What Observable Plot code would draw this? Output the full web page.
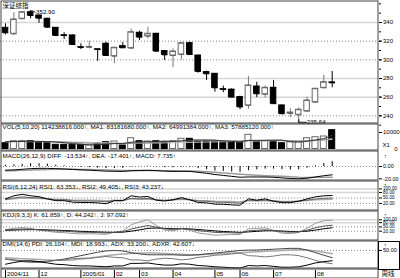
<!DOCTYPE html>
<html><head><meta charset="utf-8">
<script src="https://cdn.jsdelivr.net/npm/d3@7"></script>
<script src="https://cdn.jsdelivr.net/npm/@observablehq/plot@0.6"></script>
<style>
body{margin:0;background:#fff;}
#c{position:relative;width:400px;height:278px;overflow:hidden;background:#fff;}
#c svg{position:absolute;left:0;}
.box{position:absolute;border:1px solid #000;box-sizing:border-box;}
</style></head><body><div id="c"></div>
<script>
// ---------- data (weekly, 2004/11 – 2005/08) ----------
const title = "深证综指";
const opens  = [334.3,327.9,344,351,347.5,344,334.3,326.3,326.1,313.5,313.5,311.3,317.2,303.9,314.6,312.5,329,325.3,327.9,309.3,304.6,305.7,317.8,304.6,286.8,285,268.5,268,260,251.1,271.4,263,270,251.1,242.5,241.1,245,254.6,270,275.8];
const highs  = [338.6,350.4,351.8,352.9,348,344.5,334.3,329,326.8,317.2,320,311.5,318.9,313.5,318.4,333.2,330.7,335,328.3,309.5,311.8,318,319,305,287.8,285.3,271.8,269,261,282.2,276,272,277.9,251.5,247.5,248.6,260,269.3,283.2,287.5];
const lows   = [326.8,326.1,342.9,344,339.3,333.6,325,321.8,316,311,311.8,298.5,304,295.8,312.5,311.8,320.7,322.5,308,299.3,291.5,300,305.4,285.7,277.9,265.3,264.7,259.5,246.6,247,259.5,259,252.8,242,238,235.64,243.9,254,269,270];
const closes = [329,343.2,351,347.5,344.6,335,326.1,326,316.4,313.3,313.8,311,304.6,312.9,312.9,329.6,324.3,327.9,309.3,305.4,308.9,317.8,305.7,287.5,285,270,268.2,260,249.5,272.5,263.6,270,253,242.2,243.5,246.5,256.4,269,276,275.3];
const volumes = [3515,4727,4727,4727,4121,3515,2545,2545,2545,2545,2121,3515,4121,4545,2121,6545,4727,4545,4727,4121,4727,6181,6181,4545,4727,4727,4121,4121,3515,8605,4727,4727,4727,3515,4121,4121,6545,7151,7575,11424];
const volMA1 = [4300,4500,4600,4700,4600,4500,4200,3800,3300,2900,2500,2600,2900,3300,3300,4100,4400,4400,4500,4800,4600,5000,5400,5500,5500,5400,4900,4600,4300,5200,5200,5300,5400,5400,4400,4200,4700,5500,6300,8318];
const volMA2 = [4500,4550,4600,4600,4600,4500,4400,4200,4000,3800,3500,3400,3400,3300,3100,3400,3500,3700,3900,4100,4500,4700,4900,5000,5000,5100,5000,5000,4900,5200,5200,5200,5200,5100,5000,4800,4800,5100,5500,6499];
const volMA3 = [4400,4400,4400,4400,4400,4400,4300,4300,4200,4100,4000,3900,3800,3700,3600,3600,3600,3600,3600,3700,3800,3900,4000,4100,4200,4300,4400,4500,4600,4700,4800,4900,5000,5000,5000,5000,5100,5200,5400,5789];
const diff = [-6,-5.5,-4.5,-3.5,-3,-3,-3.5,-4,-4.8,-5.5,-6,-6.8,-7.5,-7.8,-8,-7,-6.5,-6.2,-6.8,-7.5,-8,-7.8,-8,-9.5,-11,-13,-14.5,-16,-17.5,-17,-17,-17,-17.5,-18.5,-19.5,-20,-19,-17,-15,-13.534];
const dea  = [-7,-6.8,-6.3,-5.8,-5.3,-4.9,-4.6,-4.5,-4.6,-4.8,-5,-5.4,-5.8,-6.2,-6.5,-6.6,-6.6,-6.5,-6.6,-6.8,-7,-7.2,-7.4,-7.8,-8.4,-9.3,-10.4,-11.5,-12.7,-13.6,-14.3,-14.9,-15.4,-16,-16.7,-17.4,-17.7,-17.6,-17.4,-17.401];
const macd = [2,2.6,3.6,4.6,4.6,3.8,2.2,1,-0.4,-1.4,-2,-2.8,-3.4,-3.2,-3,-0.8,0.2,0.6,-0.4,-1.4,-2,-1.2,-1.2,-3.4,-5.2,-7.4,-8.2,-9,-9.6,-6.8,-5.4,-4.2,-4.2,-5,-5.6,-5.2,-2.6,1.2,4.8,7.735];
const rsi1 = [45,62,70,62,57,45,35,35,27,25,25,23,18,35,35,62,55,58,38,33,40,52,40,25,23,16,15,12,10,45,38,45,32,24,24,32,45,56,62,63.353];
const rsi2 = [42,50,56,52,50,45,40,40,35,33,33,32,29,35,35,48,45,47,39,36,39,45,40,33,32,27,26,24,21,38,35,38,33,29,29,32,38,44,48,49.405];
const rsi3 = [42,46,50,48,47,45,42,42,39,38,38,37,35,38,38,45,43,44,40,38,40,43,40,36,35,32,31,30,28,36,35,36,34,31,31,33,36,40,42,43.237];
const kK = [28,32,35,34,30,26,22,20,16,13,12,10,8,12,16,35,48,60,48,36,32,38,33,24,18,12,10,9,7,22,26,30,24,16,13,15,27,44,56,61.859];
const kD = [26,28,30,31,31,29,27,25,22,19,17,15,13,12,13,20,29,40,42,40,37,37,36,32,27,22,18,15,12,15,19,23,23,21,18,17,20,28,37,44.242];
const kJ = [32,40,45,40,28,20,12,10,4,1,2,0,-2,12,22,65,86,100,60,28,22,40,27,8,0,-8,-6,-3,-3,36,40,44,26,6,3,11,41,76,94,97.092];
const pdi  = [18,22,25,26,24,21,18,17,15,14,14,13,12,14,14,20,20,21,18,16,16,19,18,15,14,12,11,10,9,15,14,15,13,11,11,12,16,21,24,26.104];
const mdi  = [30,27,24,22,22,24,27,28,31,32,32,34,36,34,33,28,28,26,30,32,31,28,30,34,36,39,40,42,44,38,37,35,37,40,40,38,33,27,22,18.993];
const adx  = [30,28,26,25,24,25,27,30,34,38,42,46,49,50,49,45,42,40,40,40,40,39,39,40,42,44,46,48,50,51,51,52,53,54,55,55,51,45,39,33.2];
const adxr = [33,32,31,30,29,28,27,27,28,30,32,35,38,40,42,43,44,44,44,43,42,41,40,40,41,42,43,44,45,46,47,48,49,50,51,52,51,49,46,42.607];
const tickWeeks  = [1,5,10,14,17,21,26,29,33,38];
const tickLabels = ["2004/11","12","2005/01","02","03","04","05","06","07","08"];
const priceTicks = [240,260,280,300,320,340];

// ---------- layout helpers ----------
const W = 400, RM = 22, PW = W - RM, STEP = 8.377;
const xDom = [1 - 5 / STEP, 1 + (PW - 5) / STEP];
const weeks = d3.range(1, opens.length + 1);
const up = i => closes[i - 1] >= opens[i - 1];
const FONT = "'Liberation Sans', Arial, sans-serif";
const CJK = "'Noto Sans CJK SC', sans-serif";
const c = document.getElementById("c");
function dom(top, h, vA, yA, vB, yB) {
  const k = (yB - yA) / (vA - vB);
  return [vA - (top + h - yA) / k, vA + (yA - top) / k];
}
function panel(top, h, ydom, marks) {
  const svg = Plot.plot({
    width: W, height: h, marginLeft: 0, marginRight: RM, marginTop: 0, marginBottom: 0,
    x: {domain: xDom, axis: null}, y: {domain: ydom, axis: null},
    color: {type: "identity"},
    style: {fontFamily: FONT, fontSize: "6px", background: "transparent", overflow: "visible", color: "#000"},
    marks
  });
  svg.style.top = top + "px";
  c.appendChild(svg);
}
const frame = Plot.frame({stroke: "#444", inset: 0.5});
const label = (t, dy) => Plot.text([t], {frameAnchor: "top-left", dx: 2, dy, lineAnchor: "middle", text: d => d, fontSize: 6.2});
const pin = dy => Plot.text(["↑"], {frameAnchor: "top-right", dx: 8, dy, text: d => d, fontSize: 5, fontWeight: "bold"});
const solid = v => Plot.ruleY(v, {stroke: "#d6d6d6", strokeWidth: 1.5});
const dotted = v => Plot.ruleY(v, {stroke: "#888", strokeDasharray: "1,2"});
const ser = (arr, stroke, w = 1) => Plot.line(arr, {x: (d, i) => i + 1, y: d => d, stroke, strokeWidth: w});
const axis = (ticks, fmt, size = 3, fs = 6) => Plot.axisY({anchor: "right", ticks, tickSize: size, tickPadding: size > 2 ? 1.5 : 2, fontSize: fs, tickFormat: fmt});
const f2 = d => d.toFixed(2);

// ---------- main candlestick panel ----------
const hi = d3.maxIndex(highs) + 1, lo = d3.minIndex(lows) + 1;
panel(0, 123, dom(0, 123, 340, 22, 240, 115.3), [
  solid([340, 280, 260]), dotted([320, 300, 240]),
  Plot.ruleX(weeks, {x: d => d, y1: d => lows[d - 1], y2: d => highs[d - 1], stroke: d => up(d) ? "#777" : "#000"}),
  Plot.rect(weeks, {x1: d => d - 0.33, x2: d => d + 0.33, y1: d => opens[d - 1], y2: d => closes[d - 1],
    fill: d => up(d) ? "#fff" : "#000", stroke: d => up(d) ? "#666" : "#000"}),
  Plot.link(weeks, {x1: d => d - 0.33, x2: d => d + 0.33, y1: d => opens[d - 1], y2: d => opens[d - 1], stroke: d => up(d) ? "#666" : "#000"}),
  Plot.link(weeks, {x1: d => d - 0.33, x2: d => d + 0.33, y1: d => closes[d - 1], y2: d => closes[d - 1], stroke: d => up(d) ? "#666" : "#000"}),
  Plot.link([hi], {x1: d => d + 0.1, y1: d => highs[d - 1], x2: d => d + 0.6, y2: d => highs[d - 1] - 2, stroke: "#333"}),
  Plot.text([hi], {x: d => d + 0.65, y: d => highs[d - 1] - 2, text: d => highs[d - 1].toFixed(2), textAnchor: "start", fontSize: 6.2}),
  Plot.line([[lo, lows[lo - 1]], [lo, lows[lo - 1] - 2.8], [lo + 0.9, lows[lo - 1] - 2.8]], {x: d => d[0], y: d => d[1], stroke: "#333"}),
  Plot.text([lo], {x: d => d + 0.95, y: d => lows[d - 1] - 2.8, text: d => lows[d - 1].toFixed(2), textAnchor: "start", fontSize: 6.2}),
  axis(d3.range(230, 361, 10), () => "", 2),
  axis(priceTicks, d => String(d)),
  Plot.text([title], {frameAnchor: "top-left", dx: 2, dy: 5, lineAnchor: "middle", text: d => d, fontFamily: CJK, fontSize: 6.5}),
  frame
]);

// ---------- volume ----------
panel(123, 27, dom(123, 27, 10000, 132, 0, 148.5), [
  Plot.rect(weeks, {x1: d => d - 0.36, x2: d => d + 0.36, y1: 0, y2: d => volumes[d - 1],
    fill: d => up(d) ? "#fff" : "#000", stroke: d => up(d) ? "#666" : "#000"}),
  ser(volMA3, "#bbb"), ser(volMA2, "#888"), ser(volMA1, "#333"),
  label("VOL(5,10,20) 114238816.000↑, MA1: 83181680.000↑, MA2: 64991384.000↑, MA3: 57885120.000↑", 4),
  axis([10000], d => String(d)),
  Plot.text([0], {y: d => d, frameAnchor: "right", dx: 19, text: () => "0", fontSize: 6}),
  Plot.text(["X1"], {frameAnchor: "bottom-right", dx: 4, dy: -3.5, textAnchor: "start", text: d => d, fontSize: 6}),
  frame
]);

// ---------- MACD ----------
panel(150, 30, dom(150, 30, 0, 166, -20, 178.3), [
  dotted([0]),
  Plot.ruleX(weeks, {x: d => d, y1: 0, y2: d => macd[d - 1], stroke: "#000"}),
  ser(dea, "#999", 1.5), ser(diff, "#000"),
  label("MACD(26,12,9) DIFF: -13.534↑, DEA: -17.401↑, MACD: 7.735↑", 6),
  axis([0, -20], f2, 3, 5.5), pin(4), frame
]);

// ---------- RSI ----------
panel(180, 30, dom(180, 30, 100, 188.4, 20, 202.9), [
  solid([100, 80]), dotted([50, 20]),
  ser(rsi3, "#aaa", 1.5), ser(rsi2, "#666"), ser(rsi1, "#000"),
  label("RSI(6,12,24) RSI1: 63.353↓, RSI2: 49.405↓, RSI3: 43.237↓", 7),
  axis([100, 80, 50, 20], f2, 3, 4.6), pin(2.5), frame
]);

// ---------- KDJ ----------
panel(210, 30, dom(210, 30, 100, 219.3, 20, 230.7), [
  solid([100, 80]), dotted([50, 20]),
  ser(kJ, "#999"), ser(kD, "#000"), ser(kK, "#555"),
  label("KDJ(9,3,3) K: 61.859↑, D: 44.242↑, J: 97.092↑", 5),
  axis([100, 80, 50, 20], f2, 3, 4.6), pin(3), frame
]);

// ---------- DMI ----------
panel(240, 28, dom(240, 28, 50, 250, 19, 263.3), [
  dotted([50]),
  ser(adxr, "#aaa", 1.5), ser(adx, "#444"), ser(mdi, "#777"), ser(pdi, "#000"),
  label("DMI(14,6) PDI: 26.104↑, MDI: 18.993↓, ADX: 33.200↓, ADXR: 42.607↓", 4),
  axis([50], f2, 3, 5.5), pin(3), frame
]);

// ---------- x axis strip ----------
panel(268, 10, [0, 1], [
  Plot.ruleX(tickWeeks, {x: d => d, stroke: "#000", insetTop: 2}),
  Plot.text(tickWeeks, {x: d => d, text: (d, i) => tickLabels[i], textAnchor: "start", dx: 1.5, dy: 0.5, fontSize: 6.2}),
  Plot.text(["周线"], {frameAnchor: "right", textAnchor: "start", dx: 3, text: d => d, fontFamily: CJK, fontSize: 6.5}),
  Plot.frame({stroke: "#444", inset: 0.5})
]);

const box = document.createElement("div");
box.className = "box";
Object.assign(box.style, {left: "378px", top: "241px", width: "22px", height: "29px"});
c.appendChild(box);
</script></body></html>
